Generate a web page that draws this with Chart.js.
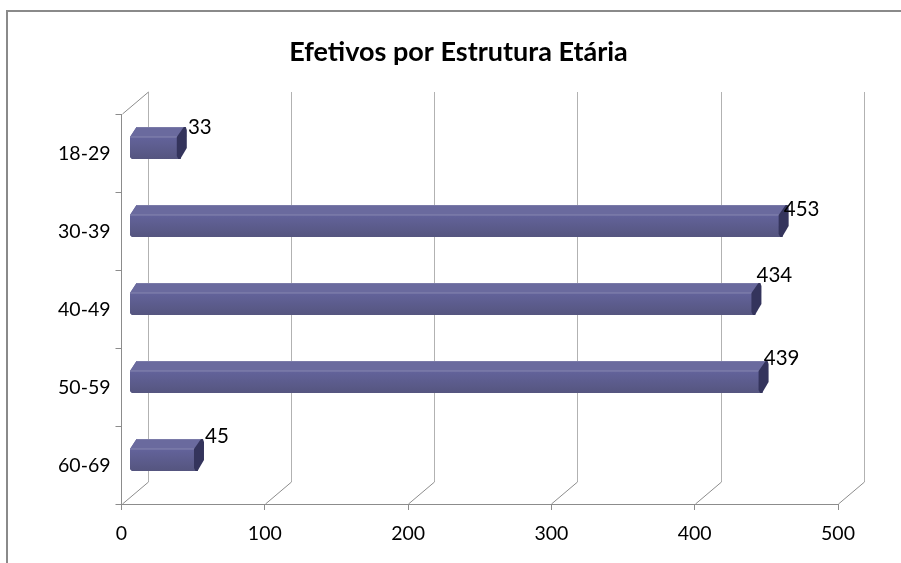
<!DOCTYPE html>
<html>
<head>
<meta charset="utf-8">
<title>Efetivos por Estrutura Etária</title>
<script src="https://cdn.jsdelivr.net/npm/chart.js@4"></script>
<style>
html, body { margin: 0; padding: 0; background: #fff; overflow: hidden; }
canvas { display: block; }
</style>
</head>
<body>
<canvas id="mycanvas" width="901" height="563"></canvas>
<script>
var ageGroups = ['18-29', '30-39', '40-49', '50-59', '60-69'];
var headcount = [33, 453, 434, 439, 45];
var axisTicks = [0, 100, 200, 300, 400, 500];

var axisColor = '#8c8c8c';
var wallColor = '#b2b2b2';
var fontName = 'Lato, "Open Sans", sans-serif';

// the original is a 3D Excel bar: back wall sits up and to the right of the axes
var wallX = 26, wallY = -22;
var barShiftX = 8, barShiftY = -10;
// manual nudges of the value labels, as dragged in the original
var labelNudgeY = [0, 4, -8, -3, -3];

function bodyPath(ctx, el) {
	var l = el.base, r = el.x, t = el.y - el.height / 2, b = el.y + el.height / 2;
	ctx.moveTo(l + 6.5, t);
	ctx.lineTo(r + 7, t);
	ctx.lineTo(r + 4, b);
	ctx.lineTo(l + 2, b);
	ctx.lineTo(l, b - 2);
	ctx.lineTo(l, t + 10);
	ctx.closePath();
}

var bars3d = {
	id: 'bars3d',
	beforeDraw: function(chart) {
		var ctx = chart.ctx;
		var x = chart.scales.x;
		var area = chart.chartArea;
		ctx.save();
		// outer frame, cropped on the right and bottom
		ctx.strokeStyle = '#8a8a8a';
		ctx.lineWidth = 2;
		ctx.beginPath();
		ctx.moveTo(7, 563);
		ctx.lineTo(7, 11);
		ctx.lineTo(901, 11);
		ctx.stroke();
		// back wall
		ctx.lineWidth = 1;
		axisTicks.forEach(function(v) {
			var px = Math.round(x.getPixelForValue(v)) + 0.5;
			ctx.strokeStyle = wallColor;
			ctx.beginPath();
			ctx.moveTo(px + wallX, area.top + wallY);
			ctx.lineTo(px + wallX, area.bottom + wallY);
			ctx.stroke();
			ctx.strokeStyle = axisColor;
			ctx.beginPath();
			ctx.moveTo(px + wallX, area.bottom + wallY);
			ctx.lineTo(px, area.bottom);
			ctx.stroke();
		});
		var left = Math.round(area.left) + 0.5;
		ctx.strokeStyle = axisColor;
		ctx.beginPath();
		ctx.moveTo(left, area.top);
		ctx.lineTo(left + wallX, area.top + wallY);
		ctx.stroke();
		ctx.restore();
	},
	beforeDatasetDraw: function(chart, args) {
		var ctx = chart.ctx;
		ctx.save();
		ctx.translate(barShiftX, barShiftY);
		ctx.beginPath();
		args.meta.data.forEach(function(el) { bodyPath(ctx, el); });
		ctx.clip();
	},
	afterDatasetDraw: function(chart, args) {
		var ctx = chart.ctx;
		args.meta.data.forEach(function(el) {
			var l = el.base, r = el.x, t = el.y - el.height / 2, b = el.y + el.height / 2;
			var shade = ctx.createLinearGradient(0, t + 10, 0, b);
			shade.addColorStop(0, '#63639b');
			shade.addColorStop(1, '#55557f');
			ctx.fillStyle = '#6a6a9e';
			ctx.fillRect(l, t, r - l + 8, 10);
			ctx.fillStyle = shade;
			ctx.fillRect(l, t + 10, r - l + 8, b - t - 10);
			ctx.fillStyle = '#8686b0';
			ctx.fillRect(l, t + 9.5, r - l + 8, 1);
			ctx.fillStyle = '#7a7aa8';
			ctx.fillRect(l, t, r - l + 8, 1);
		});
		ctx.restore();

		// end caps
		ctx.save();
		ctx.translate(barShiftX, barShiftY);
		ctx.fillStyle = '#34345c';
		args.meta.data.forEach(function(el) {
			var r = el.x, t = el.y - el.height / 2, b = el.y + el.height / 2;
			ctx.beginPath();
			ctx.moveTo(r, t + 10);
			ctx.lineTo(r + 7, t);
			ctx.lineTo(r + 9, t);
			ctx.lineTo(r + 10, t + 3);
			ctx.lineTo(r + 10, t + 21);
			ctx.lineTo(r + 3.5, b);
			ctx.lineTo(r + 1.5, b);
			ctx.lineTo(r, b - 3);
			ctx.closePath();
			ctx.fill();
		});
		ctx.restore();

		// value labels
		ctx.save();
		ctx.fillStyle = '#000';
		ctx.font = '20.5px ' + fontName;
		ctx.textAlign = 'center';
		ctx.textBaseline = 'middle';
		args.meta.data.forEach(function(el, i) {
			var top = el.y - el.height / 2 + barShiftY;
			ctx.fillText(headcount[i], el.x + barShiftX + 23, top + labelNudgeY[i]);
		});
		ctx.restore();
	},
	afterLayout: function(chart) {
		// title is centred on the uncropped frame, a bit right of the canvas centre
		chart.titleBlock.left = 16;
		chart.titleBlock.right = 901;
	}
};

var ctx = document.getElementById('mycanvas');

new Chart(ctx, {
	type: 'bar',
	data: {
		labels: ageGroups,
		datasets: [{
			data: headcount,
			backgroundColor: '#6a6a9e',
			borderWidth: 0,
			categoryPercentage: 32 / 78,
			barPercentage: 1,
			clip: false
		}]
	},
	options: {
		indexAxis: 'y',
		responsive: false,
		animation: false,
		layout: { padding: { top: 0, right: 63, left: 0, bottom: 0 } },
		plugins: {
			legend: { display: false },
			tooltip: { enabled: false },
			title: {
				display: true,
				text: 'Efetivos por Estrutura Etária',
				color: '#000',
				font: { family: fontName, size: 27, weight: 'bold' },
				padding: { top: 36, bottom: 45.6 }
			}
		},
		scales: {
			x: {
				min: 0,
				max: 500,
				afterFit: function(scale) { scale.height = 59; },
				afterBuildTicks: function(scale) {
					scale.ticks = axisTicks.map(function(v) { return { value: v }; });
				},
				grid: { drawOnChartArea: false, color: axisColor, tickLength: 6 },
				border: { color: axisColor },
				ticks: {
					color: '#000',
					padding: 12,
					maxRotation: 0,
					font: { family: fontName, size: 19.5 }
				}
			},
			y: {
				afterFit: function(scale) { scale.width = 121.5; },
				grid: { drawOnChartArea: false, color: axisColor, tickLength: 6, offset: true },
				border: { color: axisColor },
				ticks: {
					color: '#000',
					padding: 5,
					labelOffset: 1,
					font: { family: fontName, size: 19.5 }
				}
			}
		}
	},
	plugins: [bars3d]
});
</script>
</body>
</html>
